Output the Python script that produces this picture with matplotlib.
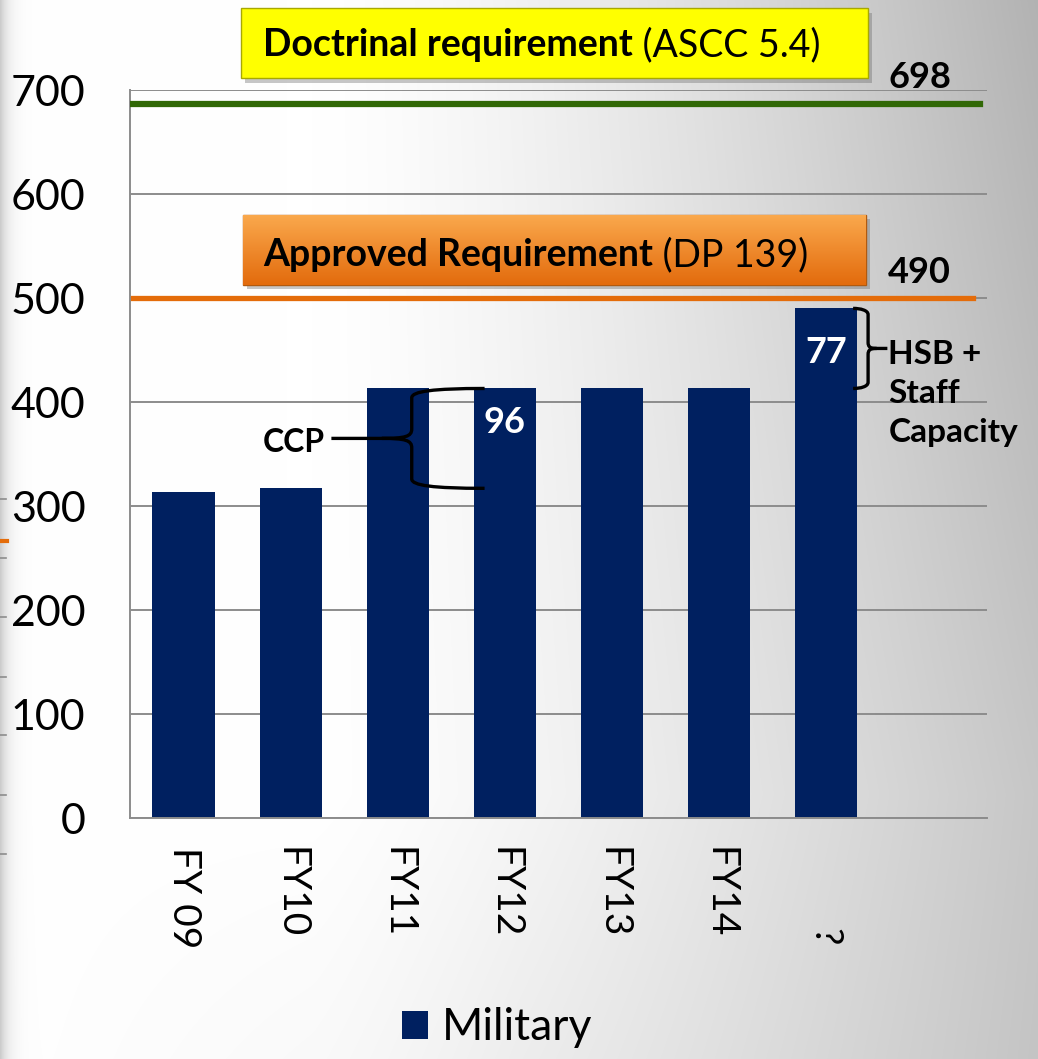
import numpy as np
import matplotlib
matplotlib.use("Agg")
import matplotlib.pyplot as plt
from matplotlib.patches import Rectangle
from matplotlib.path import Path
from matplotlib.patches import PathPatch

plt.rcParams['font.family'] = ['Lato', 'DejaVu Sans']

# data
categories = ['FY 09', 'FY10', 'FY11', 'FY12', 'FY13', 'FY14', '        ?']
military = [313, 317, 413, 413, 413, 413, 490]
doctrinal_line = 687      # where the green line is drawn
doctrinal_label = '698'
approved_line = 500       # where the orange line is drawn
approved_label = '490'
ccp_gap = '96'
hsb_gap = '77'

navy = '#002060'
green = '#316806'
orange = '#e46c0a'

W, H = 1038, 1059
fig = plt.figure(figsize=(W / 100, H / 100), dpi=100)

# slide background: white on the left, going grey to the right
bg = fig.add_axes([0, 0, 1, 1], zorder=-10)
xx, yy = np.meshgrid(np.linspace(0, 1, W), np.linspace(0, 1, H))
shade = np.clip((xx - 0.3) / 0.7, 0, 1) ** 1.4 * (1 - 0.35 * yy)
shade += 0.12 * np.clip((yy - 0.75) / 0.25, 0, 1) * np.clip(xx / 0.5, 0, 1)
gray = 1 - 0.30 * shade
gray -= 0.20 * np.exp(-xx * W / 8)
bg.imshow(np.dstack([gray] * 3).clip(0, 1), aspect='auto', extent=[0, 1, 0, 1])
bg.axis('off')

ax = fig.add_axes([130 / W, 1 - 818 / H, (987 - 130) / W, (818 - 90) / H])
ax.patch.set_alpha(0)
x = np.arange(len(categories))
ax.bar(x, military, width=0.58, color=navy, zorder=2)
ax.set_xlim(-0.5, 7.5)
ax.set_ylim(0, 700)
ax.set_yticks(range(0, 701, 100))
ax.yaxis.grid(True, color='#8c8c8c', lw=1.4, zorder=0)
ax.set_axisbelow(True)
for s in ['top', 'right']:
    ax.spines[s].set_visible(False)
for s in ['left', 'bottom']:
    ax.spines[s].set_color('#8c8c8c')
    ax.spines[s].set_linewidth(1.4)
ax.tick_params(axis='y', length=0, pad=32, labelsize=31)
ax.set_xticks(x)
ax.set_xticklabels(categories, rotation=-90, fontsize=28, va='top')
ax.tick_params(axis='x', length=0, pad=21)

ax.axhline(doctrinal_line, xmin=0, xmax=0.992, color=green, lw=4.5, zorder=3)
ax.axhline(approved_line, xmin=0.004, xmax=0.984, color=orange, lw=3.8, zorder=3)

ax.text(6.87, 712, doctrinal_label, fontsize=26, fontweight='bold', ha='center', va='center', clip_on=False)
ax.text(6.87, 525, approved_label, fontsize=26, fontweight='bold', ha='center', va='center')

ax.text(3, 380, ccp_gap, color='white', fontsize=26, fontweight='bold', ha='center', va='center', zorder=4)
ax.text(6, 448, hsb_gap, color='white', fontsize=26, fontweight='bold', ha='center', va='center', zorder=4)
ax.text(1.32, 361, 'CCP', fontsize=23, fontweight='bold', ha='right', va='center')
ax.text(6.58, 408, 'HSB +\nStaff\nCapacity', fontsize=24, fontweight='bold', ha='left', va='center',
        linespacing=1.42)


def brace(x_end, x_v, x_tip, x_text, y_top, y_bot, dx, dy):
    y_mid = (y_top + y_bot) / 2
    s = np.sign(x_v - x_end)
    verts = [(x_end, y_top), (x_v - s * dx, y_top), (x_v, y_top - dy * 0.3), (x_v, y_top - dy),
             (x_v, y_mid + dy), (x_v, y_mid + dy * 0.2), (x_v + s * dx * 0.3, y_mid), (x_tip, y_mid),
             (x_text, y_mid),
             (x_tip, y_mid), (x_v + s * dx * 0.3, y_mid), (x_v, y_mid - dy * 0.2), (x_v, y_mid - dy),
             (x_v, y_bot + dy), (x_v, y_bot + dy * 0.3), (x_v - s * dx, y_bot), (x_end, y_bot)]
    codes = [Path.MOVETO, Path.CURVE4, Path.CURVE4, Path.CURVE4,
             Path.LINETO, Path.CURVE4, Path.CURVE4, Path.CURVE4,
             Path.LINETO,
             Path.MOVETO, Path.CURVE4, Path.CURVE4, Path.CURVE4,
             Path.LINETO, Path.CURVE4, Path.CURVE4, Path.CURVE4]
    ax.add_patch(PathPatch(Path(verts, codes), fc='none', ec='black', lw=2.4, zorder=5, clip_on=False))


# CCP brace between FY10 and FY12 levels
brace(2.81, 2.13, 1.85, 1.38, military[3], military[1], 0.2, 9)
# HSB brace between FY14 and ? levels
brace(6.25, 6.39, 6.47, 6.57, military[6], military[5], 0.07, 6)

# overlay in pixel space for the callout boxes
ov = fig.add_axes([0, 0, 1, 1], zorder=6)
ov.set_xlim(0, W)
ov.set_ylim(H, 0)
ov.axis('off')

ov.add_patch(Rectangle((245, 13), 627, 70, fc='#606060', alpha=0.35, lw=0))
ov.add_patch(Rectangle((241, 8), 627, 70, fc='#ffff00', ec='#a8a800', lw=1))
ov.add_patch(Rectangle((247, 219), 623, 70, fc='#606060', alpha=0.35, lw=0))
box = Rectangle((243, 215), 623, 70, fc='none', ec='#b05a10', lw=1)
ov.add_patch(box)
grad = np.linspace(0, 1, 100)[:, None]
top_c = np.array([0.98, 0.66, 0.30])
bot_c = np.array([0.89, 0.42, 0.05])
img = top_c * (1 - grad[..., None]) + bot_c * grad[..., None]
im = ov.imshow(img, extent=[243, 866, 285, 215], aspect='auto', zorder=1)
im.set_clip_path(box)
ov.set_xlim(0, W)
ov.set_ylim(H, 0)

t1 = ov.text(263, 45, 'Doctrinal requirement', fontsize=27, fontweight='bold', va='center', ha='left', zorder=3)
ov.annotate(' (ASCC 5.4)', xy=(1, 0.5), xycoords=t1, fontsize=27, va='center', ha='left', zorder=3)
t2 = ov.text(263, 255, 'Approved Requirement', fontsize=27, fontweight='bold', va='center', ha='left', zorder=3)
ov.annotate(' (DP 139)', xy=(1, 0.5), xycoords=t2, fontsize=27, va='center', ha='left', zorder=3)

# stray marks from the neighbouring slide object at the left edge
for yp in [499, 558, 617, 677, 735, 795, 854]:
    ov.plot([0, 6], [yp, yp], color='#8c8c8c', lw=1.2)
ov.plot([0, 7], [541, 541], color=orange, lw=3)

handle = Rectangle((0, 0), 1, 1, fc=navy)
fig.legend([handle], ['Military'], loc='center', bbox_to_anchor=(0.479, 1 - 1028 / H),
           frameon=False, fontsize=32, handlelength=0.58, handleheight=0.58, handletextpad=0.3)

fig.savefig('out.png', dpi=100)
